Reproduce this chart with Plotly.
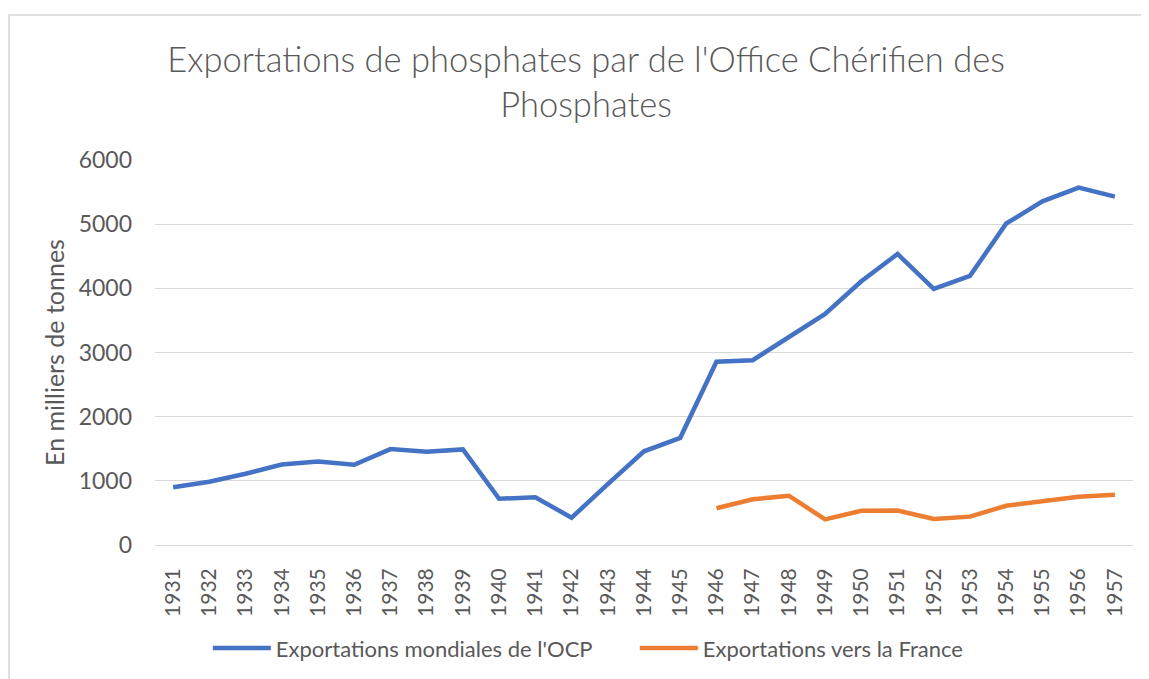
import plotly.graph_objects as go

years = [str(y) for y in range(1931, 1958)]
mondiales = [900, 985, 1110, 1255, 1300, 1250, 1495, 1455, 1490, 720, 745, 425,
             950, 1460, 1670, 2855, 2880, 3240, 3600, 4110, 4535, 3990, 4195, 5010,
             5355, 5570, 5430]
france_years = [str(y) for y in range(1946, 1958)]
france = [572, 712, 768, 400, 534, 538, 405, 442, 612, 676, 752, 783]

title_text = "Exportations de phosphates par de l'Office Chérifien des<br>Phosphates"
y_title = "En milliers de tonnes"
name1 = "Exportations mondiales de l'OCP"
name2 = "Exportations vers la France"

FONT = "Lato, 'Open Sans', sans-serif"
GREY = "#595959"

fig = go.Figure()
fig.add_trace(go.Scatter(x=years, y=mondiales, mode="lines", name=name1,
                         line=dict(color="#4472C4", width=4.5)))
fig.add_trace(go.Scatter(x=france_years, y=france, mode="lines", name=name2,
                         line=dict(color="#ED7D31", width=4.5)))

fig.update_layout(
    width=1141, height=671,
    margin=dict(l=147, r=16, t=152, b=134, autoexpand=False),
    paper_bgcolor="white", plot_bgcolor="white",
    font=dict(family=FONT, color=GREY, size=20),
    title=dict(text=title_text, x=0.5066, xanchor="center", y=0.904, yanchor="top",
               font=dict(family=FONT, size=34.5, color=GREY, weight=300)),
    showlegend=True,
    legend=dict(orientation="h", x=0.054, xanchor="left", y=-0.268, yanchor="middle",
                font=dict(family=FONT, size=22, color=GREY),
                itemwidth=58, entrywidth=354, entrywidthmode="pixels",
                tracegroupgap=0),
    xaxis=dict(type="category", categoryorder="array", categoryarray=years,
               range=[-0.5, 26.5], tickangle=-90, showgrid=False, showline=False,
               automargin=False,
               ticks="", ticklabelstandoff=18, tickfont=dict(size=21, color=GREY)),
    yaxis=dict(range=[0, 6000], dtick=1000, showgrid=True, gridcolor="#D9D9D9",
               gridwidth=1.3, zeroline=True, zerolinecolor="#D9D9D9", zerolinewidth=1.3,
               showline=False, ticks="", ticklabelstandoff=22, automargin=False,
               tickfont=dict(size=23, color=GREY),
               title=dict(text=y_title, standoff=6, font=dict(size=25, color=GREY))),
    shapes=[dict(type="rect", xref="paper", yref="paper", x0=-0.1493, x1=1.05,
                 y0=-0.45, y1=1.3766, line=dict(color="#D6D6D6", width=1.5),
                 layer="below")],
)

fig.write_html("out.html")
